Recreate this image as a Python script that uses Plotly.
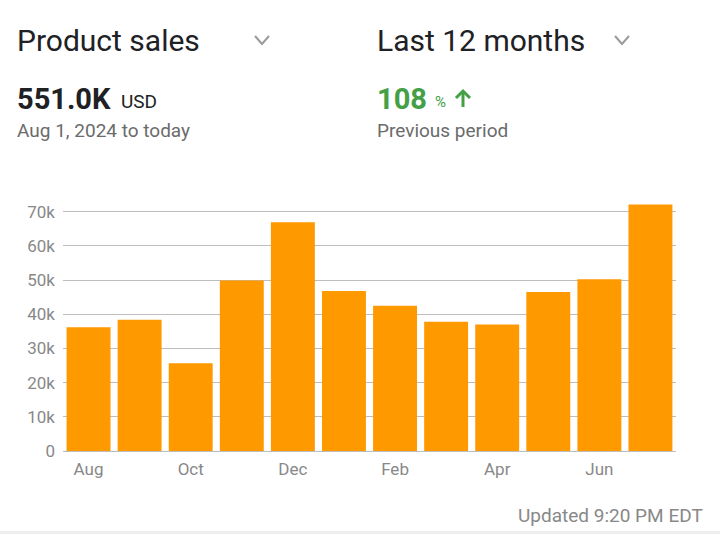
import plotly.graph_objects as go

months = ["Aug", "Sep", "Oct", "Nov", "Dec", "Jan", "Feb", "Mar", "Apr", "May", "Jun", "Jul"]
sales = [36200, 38400, 25700, 49900, 66900, 46800, 42500, 37800, 37000, 46500, 50200, 72100]
x_tick_vals = ["Aug", "Oct", "Dec", "Feb", "Apr", "Jun"]
y_tick_vals = [0, 10000, 20000, 30000, 40000, 50000, 60000, 70000]
y_tick_text = ["0", "10k", "20k", "30k", "40k", "50k", "60k", "70k"]

W, H = 720, 534
L, R, T, B = 63, 44, 198, 83
PW, PH = W - L - R, H - T - B


def px(x):
    return (x - L) / PW


def py(y):
    return (H - B - y) / PH


fig = go.Figure()
fig.add_trace(go.Bar(x=months, y=sales, marker=dict(color="#FF9900", line=dict(width=0)),
                     hoverinfo="x+y"))

FONT = "Roboto"
ann = []


def text(x, y, s, size, color, xanchor="left", yanchor="middle"):
    ann.append(dict(x=px(x), y=py(y), xref="paper", yref="paper", text=s, showarrow=False,
                    xanchor=xanchor, yanchor=yanchor,
                    font=dict(family=FONT, size=size, color=color)))


text(15, 40, "Product sales", 30, "#202124")
text(375, 40, "Last 12 months", 30, "#202124")
text(15, 99, "<b>551.0K</b>", 29, "#202124")
text(119, 101, "USD", 19, "#202124")
text(15, 130, "Aug 1, 2024 to today", 19, "#6b6b6b")
text(375, 99, "<b>108</b>", 29, "#43A047")
text(433, 102, "%", 15, "#43A047")
text(375, 130, "Previous period", 19, "#6b6b6b")
text(705, 515, "Updated 9:20 PM EDT", 19, "#888888", xanchor="right")

shapes = []
for cx in (262, 622):
    shapes.append(dict(type="path", xref="paper", yref="paper",
                       path=f"M {px(cx-7)} {py(36)} L {px(cx)} {py(44)} L {px(cx+7)} {py(36)}",
                       line=dict(color="#9a9a9a", width=2)))
# up arrow
ax = 463
shapes.append(dict(type="path", xref="paper", yref="paper",
                   path=f"M {px(ax)} {py(107)} L {px(ax)} {py(91)}",
                   line=dict(color="#43A047", width=3)))
shapes.append(dict(type="path", xref="paper", yref="paper",
                   path=f"M {px(ax-7)} {py(98)} L {px(ax)} {py(91)} L {px(ax+7)} {py(98)}",
                   line=dict(color="#43A047", width=3)))
shapes.append(dict(type="rect", xref="paper", yref="paper", x0=px(0), x1=px(720),
                   y0=py(534), y1=py(531), fillcolor="#eeeeee", line=dict(width=0), layer="below"))

fig.update_layout(
    width=W, height=H,
    margin=dict(l=L, r=R, t=T, b=B, pad=0),
    paper_bgcolor="white", plot_bgcolor="white",
    bargap=0.14, showlegend=False,
    font=dict(family=FONT, color="#888888", size=17),
    xaxis=dict(tickmode="array", tickvals=x_tick_vals, showgrid=False, ticks="",
               tickfont=dict(size=17, color="#888888"), showline=False, fixedrange=True,
               ticklabelstandoff=6),
    yaxis=dict(range=[0, 74000], tickmode="array", tickvals=y_tick_vals, ticktext=y_tick_text,
               showgrid=True, gridcolor="#bdbdbd", gridwidth=1, zeroline=True,
               zerolinecolor="#bdbdbd", zerolinewidth=1, ticks="", ticklabelstandoff=7,
               tickfont=dict(size=17, color="#888888"), fixedrange=True),
    annotations=ann, shapes=shapes,
)

fig.write_html("out.html", config={"displayModeBar": False})
